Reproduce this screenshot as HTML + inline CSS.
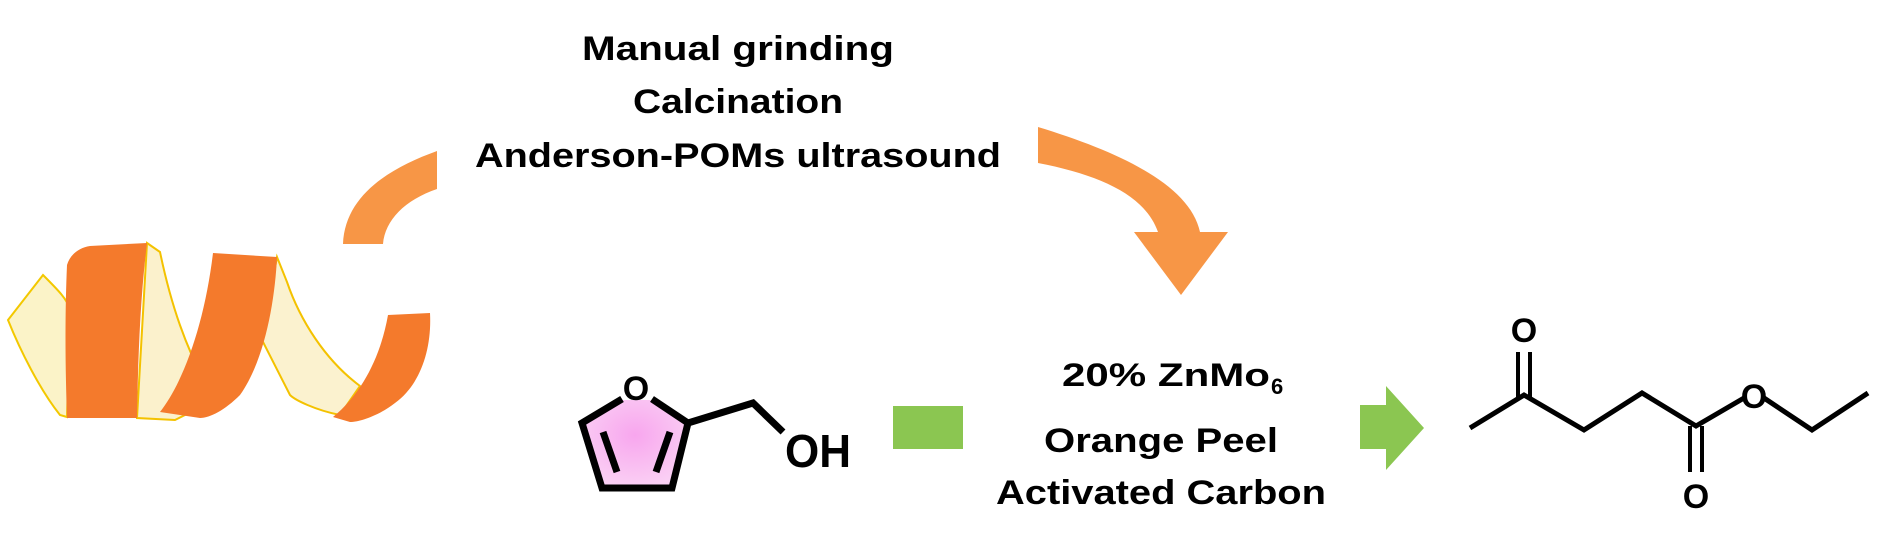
<!DOCTYPE html>
<html><head><meta charset="utf-8"><style>
html,body{margin:0;padding:0;background:#fff;}
svg{display:block;}
text{font-family:"Liberation Sans",sans-serif;font-weight:bold;fill:#000;}
</style></head><body>
<svg width="1883" height="545" viewBox="0 0 1883 545" xmlns="http://www.w3.org/2000/svg">
<defs>
<radialGradient id="pk" cx="0.5" cy="0.4" r="0.6"><stop offset="0" stop-color="#f8a6ee"/><stop offset="1" stop-color="#fad0f4"/></radialGradient>
</defs>
<!-- orange peel -->
<path d="M8,320 L43,275 C58,290 68,300 70,310 L67,417 L60,415 C40,390 20,350 8,320 Z" fill="#fbf3c8" stroke="#f3c800" stroke-width="2"/>
<path d="M147,243 L160,252 C170,300 185,350 215,400 L175,420 L137,418 Z" fill="#fbf1cc" stroke="#f4c200" stroke-width="2"/>
<path d="M277,257 L287,282 C300,320 325,360 360,386 L340,415 C315,410 295,400 290,395 L262,340 Z" fill="#fbf2cf" stroke="#f4c200" stroke-width="2"/>
<path d="M67,265 C70,255 78,248 90,246 L147,243 C140,300 138,360 137,418 L67,418 C65,360 65,310 67,265 Z" fill="#f47a2c"/>
<path d="M213,253 L277,257 C275,300 265,360 240,395 C225,410 210,418 200,418 L160,412 C185,380 205,320 213,253 Z" fill="#f47a2c"/>
<path d="M388,315 L430,313 C432,350 420,385 395,403 C380,415 360,422 350,422 L333,417 C360,395 380,360 388,315 Z" fill="#f47a2c"/>
<!-- curved orange arrows -->
<path d="M343,244 C345,195 390,168 437,151 L437,189 C405,200 385,220 383,244 Z" fill="#f79646"/>
<path d="M1038,127 C1120,152 1190,185 1200,232 L1228,232 L1181,295 L1134,232 L1158,232 C1145,195 1100,175 1038,163 Z" fill="#f79646"/>
<!-- text -->
<text x="738" y="60" font-size="34" text-anchor="middle" textLength="312" lengthAdjust="spacingAndGlyphs">Manual grinding</text>
<text x="738" y="113" font-size="34" text-anchor="middle" textLength="210" lengthAdjust="spacingAndGlyphs">Calcination</text>
<text x="738" y="167" font-size="34" text-anchor="middle" textLength="526" lengthAdjust="spacingAndGlyphs">Anderson-POMs ultrasound</text>
<!-- furfuryl alcohol -->
<polygon points="620,400 582,423 602,488 672,488 688,423 650,400" fill="url(#pk)"/>
<path d="M622,399 L582,423 L602,488 L672,488 L688,423 L652,399 M688,423 L753,403 L783,432 M603,432 L617,472 M670,432 L656,472" fill="none" stroke="#000" stroke-width="7"/>
<text x="636" y="400" font-size="34" text-anchor="middle">O</text>
<text x="785" y="467" font-size="46" textLength="66" lengthAdjust="spacingAndGlyphs">OH</text>
<rect x="893" y="406" width="70" height="43" fill="#8bc651"/>
<!-- catalyst -->
<text x="1062" y="386" font-size="32" textLength="208" lengthAdjust="spacingAndGlyphs">20% ZnMo</text>
<text x="1271" y="394" font-size="22">6</text>
<text x="1161" y="452" font-size="34" text-anchor="middle" textLength="234" lengthAdjust="spacingAndGlyphs">Orange Peel</text>
<text x="1161" y="504" font-size="34" text-anchor="middle" textLength="330" lengthAdjust="spacingAndGlyphs">Activated Carbon</text>
<!-- green arrow -->
<polygon points="1360,405 1386,405 1386,386 1424,428 1386,470 1386,449 1360,449" fill="#8bc651"/>
<!-- ethyl levulinate -->
<path d="M1470,428 L1524,395 L1584,430 L1642,393 L1696,426 L1744,398 M1764,398 L1812,430 L1868,393" fill="none" stroke="#000" stroke-width="5"/>
<path d="M1518,397 L1518,352 M1530,397 L1530,352 M1690,426 L1690,472 M1702,426 L1702,472" fill="none" stroke="#000" stroke-width="4"/>
<text x="1524" y="342" font-size="34" text-anchor="middle">O</text>
<text x="1754" y="408" font-size="34" text-anchor="middle">O</text>
<text x="1696" y="508" font-size="34" text-anchor="middle">O</text>
</svg>
</body></html>
